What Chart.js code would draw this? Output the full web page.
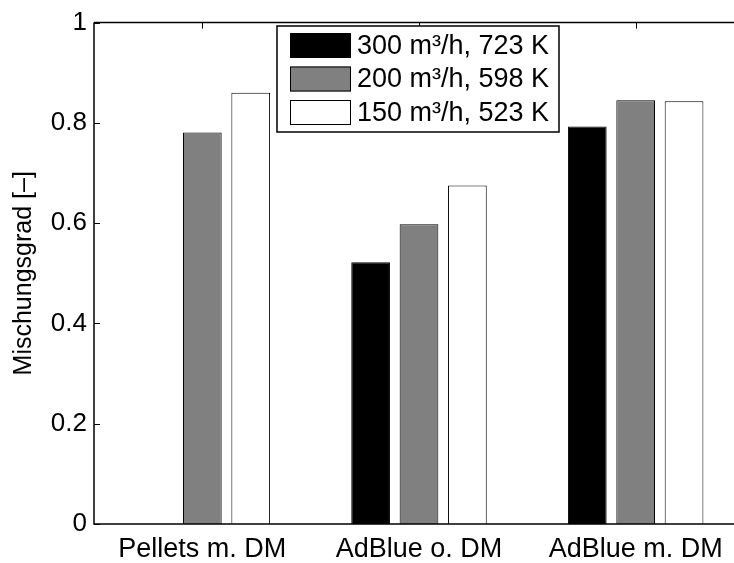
<!DOCTYPE html>
<html>
<head>
<meta charset="utf-8">
<script src="https://cdn.jsdelivr.net/npm/chart.js@4.4.1/dist/chart.umd.min.js"></script>
<style>
  html, body { margin: 0; padding: 0; background: #fff; overflow: hidden; }
  #wrap { width: 760px; height: 563px; }
</style>
</head>
<body>
<div id="wrap"><canvas id="chart" width="760" height="563"></canvas></div>
<script>
const categories = ['Pellets m. DM', 'AdBlue o. DM', 'AdBlue m. DM'];
const seriesLabels = ['300 m³/h, 723 K', '200 m³/h, 598 K', '150 m³/h, 523 K'];
const seriesColors = ['#000000', '#808080', '#ffffff'];
const hot = [0, 0.522, 0.793];
const mid = [0.781, 0.598, 0.845];
const cold = [0.86, 0.675, 0.843];
const yTicks = [0, 0.2, 0.4, 0.6, 0.8, 1];

const FONT = '"Liberation Sans", Arial, Helvetica, sans-serif';

// MATLAB-like axes: inward ticks, box on top
const axesBox = {
  id: 'axesBox',
  beforeDatasetsDraw(chart) {
    const { ctx, chartArea: a, scales } = chart;
    ctx.save();
    ctx.strokeStyle = '#000';
    ctx.lineWidth = 1;
    ctx.beginPath();
    categories.forEach((c, i) => {
      const x = Math.round(scales.x.getPixelForValue(i)) + 0.5;
      ctx.moveTo(x, a.bottom); ctx.lineTo(x, a.bottom - 6);
    });
    ctx.stroke();
    ctx.restore();
  },
  afterDatasetsDraw(chart) {
    const { ctx, chartArea: a, scales } = chart;
    ctx.save();
    ctx.strokeStyle = '#000';
    ctx.lineWidth = 1.5;
    ctx.beginPath();
    ctx.moveTo(a.left, a.top); ctx.lineTo(a.right, a.top);
    ctx.moveTo(a.left, a.top); ctx.lineTo(a.left, a.bottom);
    ctx.lineTo(a.right, a.bottom); ctx.lineTo(a.right, a.top);
    ctx.stroke();
    ctx.lineWidth = 1;
    ctx.beginPath();
    yTicks.forEach(v => {
      const y = Math.round(scales.y.getPixelForValue(v)) + 0.5;
      ctx.moveTo(a.left, y); ctx.lineTo(a.left + 6, y);
      ctx.moveTo(a.right, y); ctx.lineTo(a.right - 6, y);
    });
    categories.forEach((c, i) => {
      const x = Math.round(scales.x.getPixelForValue(i)) + 0.5;
      ctx.moveTo(x, a.top); ctx.lineTo(x, a.top + 6);
    });
    ctx.stroke();
    ctx.restore();
  }
};

// legend box in the upper middle of the axes
const boxLegend = {
  id: 'boxLegend',
  afterDraw(chart) {
    const { ctx } = chart;
    const x0 = 277, y0 = 26, w = 282, h = 106;
    ctx.save();
    ctx.fillStyle = '#fff';
    ctx.fillRect(x0, y0, w, h);
    ctx.strokeStyle = '#000';
    ctx.lineWidth = 1.5;
    ctx.strokeRect(x0, y0, w, h);
    ctx.font = '27px ' + FONT;
    ctx.textBaseline = 'middle';
    chart.data.datasets.forEach((ds, i) => {
      const cy = 45.5 + i * 33.5;
      ctx.fillStyle = ds.backgroundColor;
      ctx.fillRect(290, cy - 12.5, 61, 25);
      ctx.lineWidth = 1;
      ctx.strokeStyle = '#000';
      ctx.strokeRect(290.5, cy - 12, 60, 24);
      ctx.fillStyle = '#000';
      ctx.fillText(ds.label, 357, cy + 1);
    });
    ctx.restore();
  }
};

const makeSet = (i, data) => ({
  label: seriesLabels[i],
  data: data,
  backgroundColor: seriesColors[i],
  borderColor: '#000',
  borderWidth: 1,
  barPercentage: 0.8,
  categoryPercentage: 0.67
});

new Chart(document.getElementById('chart'), {
  type: 'bar',
  data: {
    labels: categories,
    datasets: [makeSet(0, hot), makeSet(1, mid), makeSet(2, cold)]
  },
  options: {
    responsive: false,
    animation: false,
    layout: { padding: { top: 16, right: 16, left: 0, bottom: 0 } },
    plugins: { legend: { display: false }, tooltip: { enabled: false } },
    scales: {
      x: {
        grid: { display: false, drawTicks: false },
        border: { display: false },
        ticks: { color: '#000', font: { family: FONT, size: 27 }, padding: 9, maxRotation: 0 },
        afterFit(scale) { scale.height = 39; }
      },
      y: {
        min: 0, max: 1,
        afterBuildTicks(scale) { scale.ticks = yTicks.map(v => ({ value: v })); },
        grid: { display: false, drawTicks: false },
        border: { display: false },
        ticks: {
          color: '#000', font: { family: FONT, size: 26 }, padding: 7,
          callback: v => String(v)
        },
        title: {
          display: true, text: 'Mischungsgrad [–]', color: '#000',
          font: { family: FONT, size: 25 }, padding: { top: 9, bottom: 0 }
        },
        afterFit(scale) { scale.width = 94; }
      }
    }
  },
  plugins: [axesBox, boxLegend]
});
</script>
</body>
</html>
